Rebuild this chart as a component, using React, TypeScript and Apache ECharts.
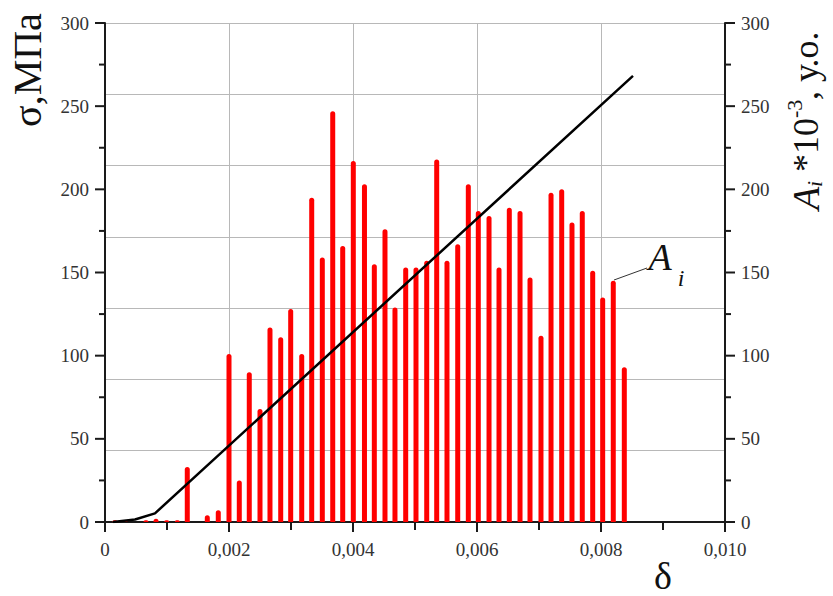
import React, { useEffect, useRef } from "react";
import * as echarts from "echarts";

// ---- Data ----
// Strain δ of each acoustic-emission bar
const barStrain = [
  0.000161, 0.000323, 0.000661, 0.000823, 0.000995, 0.001166, 0.001327, 0.00165,
  0.001827, 0.002, 0.002166, 0.002327, 0.0025, 0.002661, 0.002834, 0.002995,
  0.003173, 0.003334, 0.003505, 0.003673, 0.003834, 0.004005, 0.004185, 0.004344,
  0.004516, 0.004677, 0.00485, 0.005016, 0.005189, 0.00535, 0.005516, 0.005689,
  0.00586, 0.006021, 0.006194, 0.006355, 0.006521, 0.006694, 0.006855, 0.007032,
  0.007194, 0.007366, 0.007532, 0.007698, 0.007866, 0.008027, 0.008198, 0.008376,
];
// A_i * 10^-3 (right axis)
const barAmplitude = [
  1, 1, 1, 2, 1, 1, 33, 4,
  7, 101, 25, 90, 68, 117, 111, 128,
  101, 195, 159, 247, 166, 217, 203, 155,
  176, 129, 153, 153, 157, 218, 157, 167,
  203, 187, 184, 153, 189, 187, 147, 112,
  198, 200, 180, 187, 151, 135, 145, 93,
];
// Stress-strain curve σ (left axis)
const curveStrain = [0.000129, 0.000484, 0.000806, 0.008516];
const curveStress = [0, 1.5, 5.2, 268.2];

// Tick positions (major + minor)
const xTicks = [0, 0.002, 0.004, 0.006, 0.008, 0.01];
const xTickVals = [0, 0.001, 0.002, 0.003, 0.004, 0.005, 0.006, 0.007, 0.008, 0.009, 0.01];
const yTickVals = [0, 25, 50, 75, 100, 125, 150, 175, 200, 225, 250, 275, 300];

const FONT = "Liberation Serif";
const AXIS = "#1a1a1a";
const GRIDC = "#b8b8b8";
const LABEL = "#333333";

const rotText = (text: string, x: number, y: number, size: number, italic: boolean) => ({
  type: "text",
  x,
  y,
  rotation: Math.PI / 2,
  style: {
    text,
    fontFamily: FONT,
    fontSize: size,
    fontStyle: italic ? "italic" : "normal",
    fill: "#111",
    align: "left",
    verticalAlign: "middle",
  },
});

export default function App() {
  const ref = useRef<HTMLDivElement>(null);
  useEffect(() => {
    document.body.style.margin = "0";
    if (!ref.current) return;
    const chart = echarts.init(ref.current, null, { renderer: "svg" });
    const xFmt = (v: number) => {
      const t = xTicks.find((k) => Math.abs(k - v) < 1e-9);
      const val = t === undefined ? v : t;
      return val === 0 ? "0" : val.toFixed(3).replace(".", ",");
    };
    const yMajor = (pos: "left" | "right") => ({
      type: "value",
      position: pos,
      min: 0,
      max: 300,
      interval: 50,
      axisLine: { show: true, lineStyle: { color: AXIS, width: 2 } },
      axisTick: { show: false },
      splitLine: { show: false },
      axisLabel: { margin: 16, fontFamily: FONT, fontSize: 19, color: LABEL },
    });
    const tickSeries = (kind: "x" | "l" | "r") => ({
      type: "custom",
      xAxisIndex: 0,
      yAxisIndex: 0,
      clip: false,
      silent: true,
      z: 6,
      data:
        kind === "x"
          ? xTickVals.map((v) => [v, 0])
          : yTickVals.map((v) => [kind === "l" ? 0 : 0.01, v]),
      renderItem: (params: any, api: any) => {
        const xv = api.value(0);
        const yv = api.value(1);
        const p = api.coord([xv, yv]);
        if (kind === "x") {
          const major = Math.round(xv / 0.001) % 2 === 0;
          const len = major ? 10 : 8;
          return {
            type: "line",
            shape: { x1: p[0], y1: p[1], x2: p[0], y2: p[1] + len },
            style: { stroke: AXIS, lineWidth: 2 },
          };
        }
        const major = Math.round(yv) % 50 === 0;
        const len = major ? 10 : 6;
        const dir = kind === "l" ? -1 : 1;
        return {
          type: "line",
          shape: { x1: p[0], y1: p[1], x2: p[0] + dir * len, y2: p[1] },
          style: { stroke: AXIS, lineWidth: 2 },
        };
      },
    });
    chart.setOption({
      animation: false,
      textStyle: { fontFamily: FONT },
      grid: { left: 105, right: 108, top: 23, bottom: 74 },
      xAxis: {
        type: "value",
        position: "bottom",
        min: 0,
        max: 0.01,
        interval: 0.002,
        axisLine: { show: true, lineStyle: { color: AXIS, width: 2 } },
        axisTick: { show: false },
        splitLine: { show: true, lineStyle: { color: GRIDC, width: 1 } },
        axisLabel: { margin: 18, fontFamily: FONT, fontSize: 19, color: LABEL, formatter: xFmt },
      },
      yAxis: [
        yMajor("left"),
        yMajor("right"),
        {
          type: "value",
          position: "left",
          min: 0,
          max: 7,
          interval: 1,
          axisLine: { show: false },
          axisTick: { show: false },
          axisLabel: { show: false },
          splitLine: { show: true, lineStyle: { color: GRIDC, width: 1 } },
        },
      ],
      series: [
        {
          type: "bar",
          xAxisIndex: 0,
          yAxisIndex: 1,
          barWidth: 5,
          itemStyle: { color: "#ff0000", borderRadius: [2.5, 2.5, 0, 0] },
          data: barStrain.map((x, i) => [x, barAmplitude[i]]),
        },
        {
          type: "line",
          xAxisIndex: 0,
          yAxisIndex: 0,
          showSymbol: false,
          symbol: "none",
          lineStyle: { color: "#000", width: 2.5 },
          data: curveStrain.map((x, i) => [x, curveStress[i]]),
          z: 3,
        },
        tickSeries("x"),
        tickSeries("l"),
        tickSeries("r"),
      ],
      graphic: [
        {
          type: "text",
          x: 27,
          y: 70,
          rotation: Math.PI / 2,
          style: {
            text: "σ,МПа",
            fontFamily: FONT,
            fontSize: 40,
            fill: "#111",
            align: "center",
            verticalAlign: "middle",
          },
        },
        rotText("A", 806, 210, 38, true),
        rotText("i", 814, 187, 22, true),
        rotText(" *10", 806, 181, 36, false),
        rotText("-3", 794, 118, 22, false),
        rotText(", у.о.", 806, 100, 36, false),
        {
          type: "text",
          x: 663,
          y: 576,
          style: {
            text: "δ",
            fontFamily: FONT,
            fontSize: 38,
            fill: "#111",
            align: "center",
            verticalAlign: "middle",
          },
        },
        {
          type: "line",
          shape: { x1: 614, y1: 280, x2: 647, y2: 268 },
          style: { stroke: "#333", lineWidth: 1 },
        },
        {
          type: "text",
          x: 660,
          y: 257,
          style: {
            text: "A",
            fontFamily: FONT,
            fontStyle: "italic",
            fontSize: 38,
            fill: "#111",
            align: "center",
            verticalAlign: "middle",
          },
        },
        {
          type: "text",
          x: 681,
          y: 278,
          style: {
            text: "i",
            fontFamily: FONT,
            fontStyle: "italic",
            fontSize: 24,
            fill: "#111",
            align: "center",
            verticalAlign: "middle",
          },
        },
      ],
    });
    return () => chart.dispose();
  }, []);
  return <div ref={ref} style={{ width: 833, height: 596 }} />;
}
